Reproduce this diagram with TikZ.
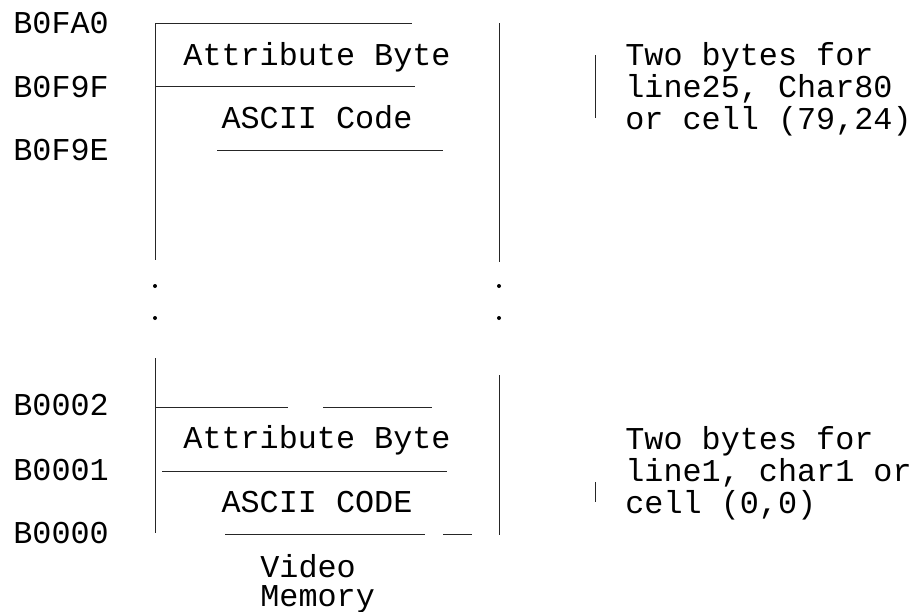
\documentclass[tikz,border=0pt]{standalone}
\usepackage{fontspec}
\newfontfamily\monofont{Liberation Mono}
\usetikzlibrary{positioning}

\begin{document}
\begin{tikzpicture}[x=0.5pt, y=-0.5pt,
    every node/.style={font=\monofont\fontsize{15.9}{16}\selectfont, inner sep=0pt},
    addr/.style={anchor=base west},
    cell/.style={anchor=base},
    note/.style={anchor=base west, align=left},
    rule/.style={line width=0.5pt, black!85}
]
    \useasboundingbox (0,0) rectangle (916,611);

    % Address labels
    \node (aFA0) [addr] at (13,33) {B0FA0};
    \node (aF9F) [addr] at (13,97) {B0F9F};
    \node (aF9E) [addr] at (13,160) {B0F9E};
    \node (a002) [addr] at (13,415) {B0002};
    \node (a001) [addr] at (13,480) {B0001};
    \node (a000) [addr] at (13,543) {B0000};

    % Top cell (line25, char80)
    \draw[rule] (155,23) -- (155,260);
    \draw[rule] (499,23) -- (499,262);
    \draw[rule] (155,23) -- (412,23);
    \draw[rule] (155,86) -- (415,86);
    \draw[rule] (217,150) -- (443,150);
    \node (attrTop) [cell] at (317,65) {Attribute Byte};
    \node (asciiTop) [cell] at (317,128) {ASCII Code};

    % Continuation dots
    \foreach \x in {155,499}
        \foreach \y in {286,318}
            \fill (\x,\y) circle (1pt);

    % Bottom cell (line1, char1)
    \draw[rule] (155,358) -- (155,533);
    \draw[rule] (499,375) -- (499,535);
    \draw[rule] (155,407) -- (288,407) (323,407) -- (432,407);
    \draw[rule] (162,471) -- (447,471);
    \draw[rule] (225,534) -- (425,534) (443,534) -- (472,534);
    \node (attrBot) [cell] at (317,448) {Attribute Byte};
    \node (asciiBot) [cell] at (317,512) {ASCII CODE};

    \node (vmem) [note, font=\monofont\fontsize{15.9}{14.5}\selectfont] at (260,606) {Video\\Memory};

    % Side notes
    \draw[rule] (595,55) -- (595,118);
    \node (noteTop) [note] at (625,129) {Two bytes for\\line25, Char80\\or cell (79,24)};
    \draw[rule] (595,482) -- (595,502);
    \node (noteBot) [note] at (625,513) {Two bytes for\\line1, char1 or\\cell (0,0)};

\end{tikzpicture}
\end{document}
